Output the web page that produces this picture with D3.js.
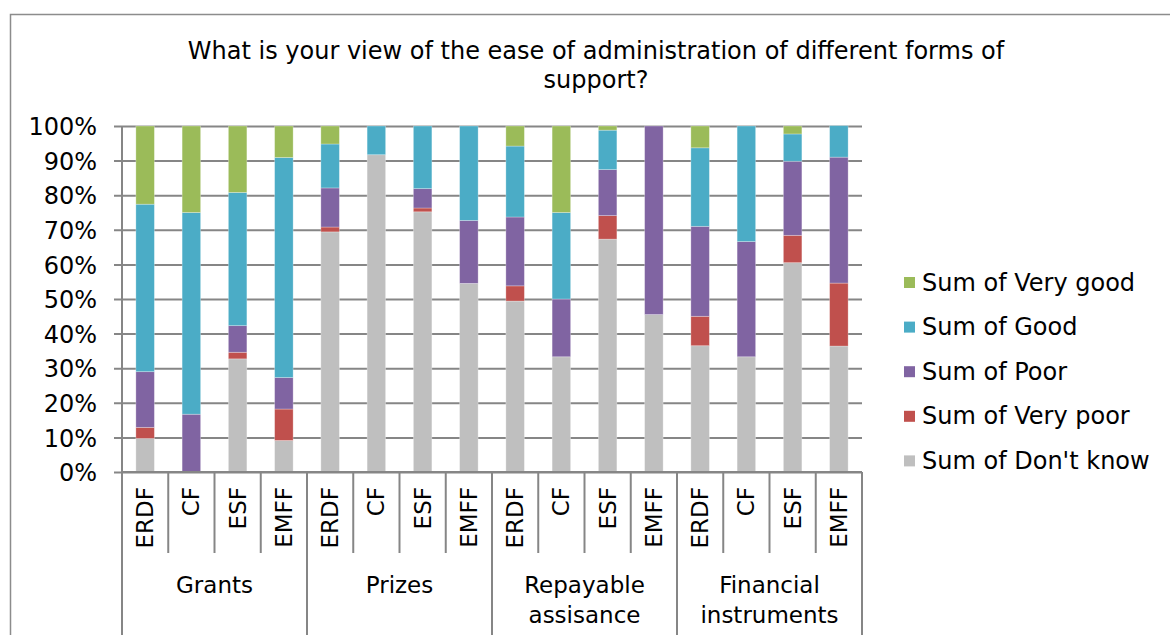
<!DOCTYPE html>
<html>
<head>
<meta charset="utf-8">
<script src="https://cdn.jsdelivr.net/npm/d3@7"></script>
<style>
  body { margin: 0; background: #fff; }
  text { font-family: "DejaVu Sans", Verdana, sans-serif; fill: #000; }
</style>
</head>
<body>
<div id="chart"></div>
<script>
// data (percent of answers per fund)
var groups = ["Grants", "Prizes", "Repayable assisance", "Financial instruments"];
var groupLines = [["Grants"], ["Prizes"], ["Repayable", "assisance"], ["Financial", "instruments"]];
var funds = ["ERDF", "CF", "ESF", "EMFF"];

var dontKnow = [9.7, 0, 32.7, 9.1, 69.4, 91.7, 75.2, 54.5, 49.4, 33.3, 67.3, 45.5, 36.5, 33.3, 60.5, 36.4];
var veryPoor = [3.2, 0, 1.9, 9.1, 1.4, 0, 1.1, 0, 4.4, 0, 6.8, 0, 8.5, 0, 7.9, 18.2];
var poor     = [16.1, 16.7, 7.7, 9.1, 11.3, 0, 5.6, 18.2, 19.9, 16.7, 13.3, 54.5, 26.0, 33.3, 21.4, 36.4];
var good     = [48.4, 58.3, 38.5, 63.6, 12.7, 8.3, 18.1, 27.3, 20.5, 25.0, 11.4, 0, 22.7, 33.4, 7.9, 9.1];
var veryGood = [22.6, 25.0, 19.2, 9.1, 5.2, 0, 0, 0, 5.8, 25.0, 1.2, 0, 6.3, 0, 2.3, 0];

var seriesNames = ["Sum of Don't know", "Sum of Very poor", "Sum of Poor", "Sum of Good", "Sum of Very good"];
var seriesColors = ["#BFBFBF", "#C0504D", "#8064A2", "#4BACC6", "#9BBB59"];
var yTicks = [0, 10, 20, 30, 40, 50, 60, 70, 80, 90, 100];

// build rows for d3.stack
var rows = [];
groups.forEach(function(g, gi) {
  funds.forEach(function(f, fi) {
    var i = gi * funds.length + fi;
    rows.push({
      id: i, group: g, fund: f,
      "Sum of Don't know": dontKnow[i],
      "Sum of Very poor": veryPoor[i],
      "Sum of Poor": poor[i],
      "Sum of Good": good[i],
      "Sum of Very good": veryGood[i]
    });
  });
});

var W = 1170, H = 635;
// plot box (note: "top" is a window property, so keep these names distinct)
var pL = 122, pR = 862, pT = 126, pB = 472;

var svg = d3.select("#chart").append("svg")
  .attr("width", W)
  .attr("height", H);

// chart frame (runs off the bottom and right like the reference)
svg.append("rect")
  .attr("x", 10.5).attr("y", 14.5)
  .attr("width", W + 10).attr("height", H + 10)
  .attr("fill", "#fff")
  .attr("stroke", "#8c8c8c")
  .attr("stroke-width", 1.5);

// title
var title = svg.append("text")
  .attr("text-anchor", "middle")
  .attr("font-size", 24);
title.append("tspan").attr("x", 596).attr("y", 59)
  .text("What is your view of the ease of administration of different forms of");
title.append("tspan").attr("x", 596).attr("y", 88).text("support?");

var ids = rows.map(function(d) { return d.id; });

var x = d3.scaleBand().domain(ids).range([pL, pR])
  .paddingInner(0.6).paddingOuter(0.3);
var xCell = d3.scaleBand().domain(ids).range([pL, pR]);
var y = d3.scaleLinear().domain([0, 100]).range([pB, pT]);

// gridlines + y axis
var yAxis = d3.axisLeft(y)
  .tickValues(yTicks)
  .tickSize(-(pR - pL))
  .tickPadding(25)
  .tickFormat(function(d) { return d + "%"; });

var gy = svg.append("g")
  .attr("transform", "translate(" + pL + ",0)")
  .call(yAxis);
gy.select(".domain").remove();
gy.selectAll(".tick line")
  .attr("x1", -8)
  .attr("stroke", "#868686")
  .attr("stroke-width", 2);
gy.selectAll(".tick text")
  .attr("font-size", 24)
  .attr("dy", "0.36em")
  .style("font-family", "'DejaVu Sans', Verdana, sans-serif");

svg.append("line")
  .attr("x1", pL).attr("x2", pL)
  .attr("y1", pT).attr("y2", pB)
  .attr("stroke", "#868686").attr("stroke-width", 2);

// stacked bars
var stack = d3.stack().keys(seriesNames);
var layers = stack(rows);

svg.append("g").selectAll("g")
  .data(layers)
  .join("g")
  .attr("fill", function(d, i) { return seriesColors[i]; })
  .selectAll("rect")
  .data(function(d) { return d; })
  .join("rect")
  .attr("x", function(d) { return x(d.data.id); })
  .attr("width", x.bandwidth())
  .attr("y", function(d) { return y(d[1]); })
  .attr("height", function(d) { return Math.max(0, y(d[0]) - y(d[1])); })
  .attr("stroke", "#ffffff")
  .attr("stroke-opacity", 0.35)
  .attr("stroke-width", 0.8);

// category axis: bottom line, fund separators, group separators
svg.append("line")
  .attr("x1", pL).attr("x2", pR)
  .attr("y1", pB).attr("y2", pB)
  .attr("stroke", "#868686").attr("stroke-width", 2);

var sepX = ids.map(function(d) { return xCell(d); }).concat([pR]);
svg.append("g").selectAll("line")
  .data(sepX)
  .join("line")
  .attr("x1", function(d) { return d; })
  .attr("x2", function(d) { return d; })
  .attr("y1", pB)
  .attr("y2", function(d, i) { return i % funds.length === 0 ? H : 553; })
  .attr("stroke", "#868686")
  .attr("stroke-width", 2);

// fund labels, rotated
svg.append("g").selectAll("text")
  .data(rows)
  .join("text")
  .attr("transform", function(d) {
    return "translate(" + (xCell(d.id) + xCell.bandwidth() / 2 + 8) + ",487) rotate(-90)";
  })
  .attr("text-anchor", "end")
  .attr("font-size", 23)
  .text(function(d) { return d.fund; });

// group labels
var groupW = (pR - pL) / groups.length;
svg.append("g").selectAll("text")
  .data(groupLines)
  .join("text")
  .attr("text-anchor", "middle")
  .attr("font-size", 23)
  .each(function(lines, gi) {
    var t = d3.select(this);
    lines.forEach(function(l, li) {
      t.append("tspan")
        .attr("x", pL + groupW * gi + groupW / 2)
        .attr("y", 593 + li * 30)
        .text(l);
    });
  });

// legend (top entry is the top of the stack)
var legendOrder = seriesNames.slice().reverse();
var legend = svg.append("g").selectAll("g")
  .data(legendOrder)
  .join("g")
  .attr("transform", function(d, i) { return "translate(904," + (282 + i * 44.6) + ")"; });
legend.append("rect")
  .attr("x", 0).attr("y", -5)
  .attr("width", 11).attr("height", 11)
  .attr("fill", function(d) { return seriesColors[seriesNames.indexOf(d)]; });
legend.append("text")
  .attr("x", 18).attr("y", 0)
  .attr("dy", "0.36em")
  .attr("font-size", 24)
  .text(function(d) { return d; });
</script>
</body>
</html>
